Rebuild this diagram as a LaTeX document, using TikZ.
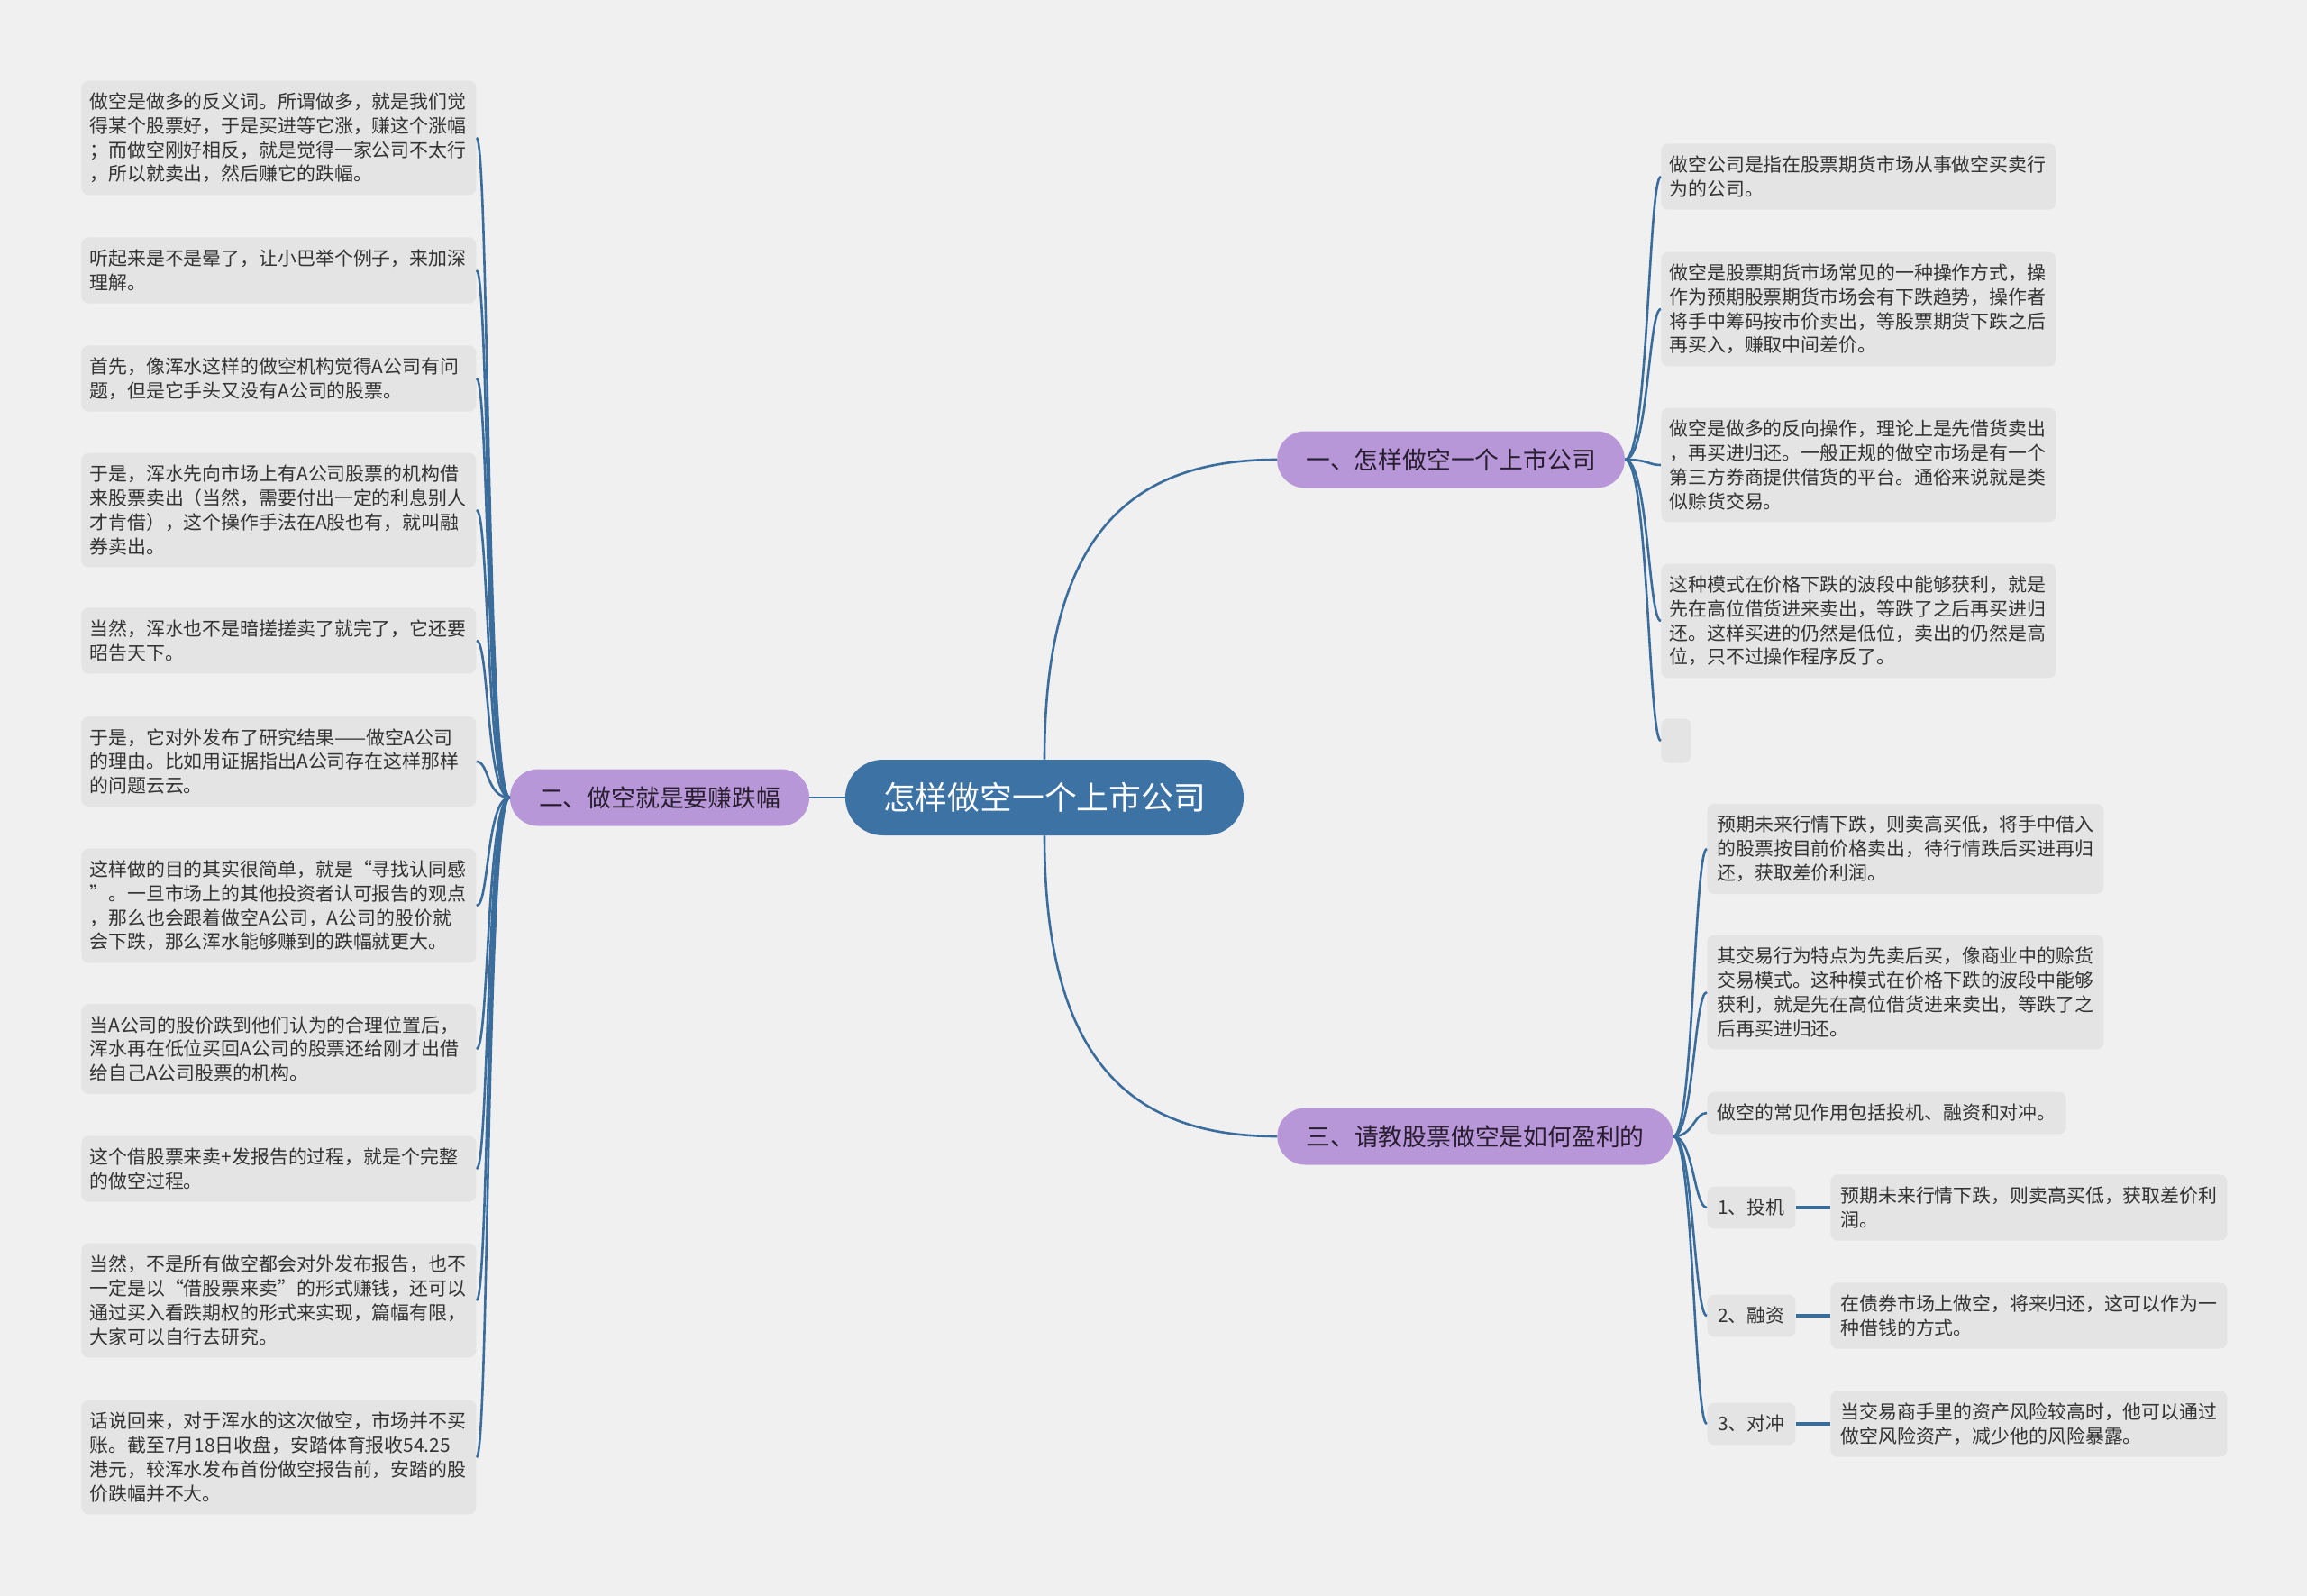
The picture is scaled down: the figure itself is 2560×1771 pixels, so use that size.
\documentclass[tikz,border=0pt]{standalone}
\usepackage{fontspec}
\setmainfont{Noto Sans CJK SC}
\usepackage{xcolor}
\usepackage{tikz}
\usetikzlibrary{positioning}
\definecolor{paper}{RGB}{240,240,240}
\definecolor{rootblue}{RGB}{60,114,164}
\definecolor{linkblue}{RGB}{58,108,156}
\definecolor{lavender}{RGB}{184,151,216}
\definecolor{leafgray}{RGB}{228,228,228}
\definecolor{inkgray}{RGB}{51,51,51}
\definecolor{branchink}{RGB}{40,30,48}

\begin{document}
\begin{tikzpicture}[x=0.5pt, y=-0.5pt,
    root/.style={fill=rootblue, text=white, rounded corners=20.9pt, minimum height=42pt, inner xsep=21pt, font=\fontsize{17.9}{20}\selectfont},
    branch/.style={fill=lavender, text=branchink, rounded corners=15.6pt, minimum height=31.5pt, inner xsep=16pt, font=\fontsize{13.4}{16}\selectfont},
    leaf/.style={fill=leafgray, text=inkgray, rounded corners=4pt, anchor=west, align=left, text width=210pt, inner xsep=4.5pt, inner ysep=0pt, font=\fontsize{10.45}{13.35}\selectfont},
    small/.style={leaf, text width=, inner xsep=5.5pt},
    lines/.style={minimum height=#1*13.35pt+10pt},
    link/.style={draw=linkblue, line width=1.3pt},
    ]
    \useasboundingbox (0,0) rectangle (2560,1771);
    \fill[paper] (0,0) rectangle (2560,1771);

    % Root and main branches
    \node[root] (root) at (1159,885) {怎样做空一个上市公司};
    \node[branch] (b1) at (1610,510) {一、怎样做空一个上市公司};
    \node[branch] (b2) at (732,885) {二、做空就是要赚跌幅};
    \node[branch] (b3) at (1637,1261) {三、请教股票做空是如何盈利的};

    \draw[link] (root.north) .. controls +(0,-243) and +(-168,0) .. (b1.west);
    \draw[link] (root.south) .. controls +(0,243) and +(-168,0) .. (b3.west);
    \draw[link] (root.west) -- (b2.east);

    % Branch 1: what a short company is
    \node[leaf, lines=2] (r1) at (1843,196) {做空公司是指在股票期货市场从事做空买卖行\\为的公司。};
    \node[leaf, lines=4] (r2) at (1843,343) {做空是股票期货市场常见的一种操作方式，操\\作为预期股票期货市场会有下跌趋势，操作者\\将手中筹码按市价卖出，等股票期货下跌之后\\再买入，赚取中间差价。};
    \node[leaf, lines=4] (r3) at (1843,516) {做空是做多的反向操作，理论上是先借货卖出\\，再买进归还。一般正规的做空市场是有一个\\第三方券商提供借货的平台。通俗来说就是类\\似赊货交易。};
    \node[leaf, lines=4] (r4) at (1843,689) {这种模式在价格下跌的波段中能够获利，就是\\先在高位借货进来卖出，等跌了之后再买进归\\还。这样买进的仍然是低位，卖出的仍然是高\\位，只不过操作程序反了。};
    \node[leaf, text width=, minimum width=16.5pt, minimum height=24.5pt] (r5) at (1843,822) {};
    \foreach \n in {r1,r2,r3,r4,r5}
        \draw[link] (b1.east) .. controls +(26,0) and +(-14,0) .. (\n.west);

    % Branch 2: the example of a short seller
    \node[leaf, lines=4] (l1) at (90,153) {做空是做多的反义词。所谓做多，就是我们觉\\得某个股票好，于是买进等它涨，赚这个涨幅\\；而做空刚好相反，就是觉得一家公司不太行\\，所以就卖出，然后赚它的跌幅。};
    \node[leaf, lines=2] (l2) at (90,300) {听起来是不是晕了，让小巴举个例子，来加深\\理解。};
    \node[leaf, lines=2] (l3) at (90,420) {首先，像浑水这样的做空机构觉得A公司有问\\题，但是它手头又没有A公司的股票。};
    \node[leaf, lines=4] (l4) at (90,566) {于是，浑水先向市场上有A公司股票的机构借\\来股票卖出（当然，需要付出一定的利息别人\\才肯借），这个操作手法在A股也有，就叫融\\券卖出。};
    \node[leaf, lines=2] (l5) at (90,711) {当然，浑水也不是暗搓搓卖了就完了，它还要\\昭告天下。};
    \node[leaf, lines=3] (l6) at (90,845) {于是，它对外发布了研究结果——做空A公司\\的理由。比如用证据指出A公司存在这样那样\\的问题云云。};
    \node[leaf, lines=4] (l7) at (90,1005) {这样做的目的其实很简单，就是“寻找认同感\\”。一旦市场上的其他投资者认可报告的观点\\，那么也会跟着做空A公司，A公司的股价就\\会下跌，那么浑水能够赚到的跌幅就更大。};
    \node[leaf, lines=3] (l8) at (90,1164) {当A公司的股价跌到他们认为的合理位置后，\\浑水再在低位买回A公司的股票还给刚才出借\\给自己A公司股票的机构。};
    \node[leaf, lines=2] (l9) at (90,1297) {这个借股票来卖+发报告的过程，就是个完整\\的做空过程。};
    \node[leaf, lines=4] (l10) at (90,1443) {当然，不是所有做空都会对外发布报告，也不\\一定是以“借股票来卖”的形式赚钱，还可以\\通过买入看跌期权的形式来实现，篇幅有限，\\大家可以自行去研究。};
    \node[leaf, lines=4] (l11) at (90,1617) {话说回来，对于浑水的这次做空，市场并不买\\账。截至7月18日收盘，安踏体育报收54.25\\港元，较浑水发布首份做空报告前，安踏的股\\价跌幅并不大。};
    \foreach \n in {l1,l2,l3,l4,l5,l6,l7,l8,l9,l10,l11}
        \draw[link] (b2.west) .. controls +(-26,0) and +(14,0) .. (\n.east);

    % Branch 3: how shorting makes money
    \node[small, lines=3] (s1) at (1894,942) {预期未来行情下跌，则卖高买低，将手中借入\\的股票按目前价格卖出，待行情跌后买进再归\\还，获取差价利润。};
    \node[small, lines=4] (s2) at (1894,1101) {其交易行为特点为先卖后买，像商业中的赊货\\交易模式。这种模式在价格下跌的波段中能够\\获利，就是先在高位借货进来卖出，等跌了之\\后再买进归还。};
    \node[small, lines=1] (s3) at (1894,1235) {做空的常见作用包括投机、融资和对冲。};
    \node[small, lines=1, minimum width=49pt] (s4) at (1894,1340) {1、投机};
    \node[small, lines=1, minimum width=49pt] (s5) at (1894,1460) {2、融资};
    \node[small, lines=1, minimum width=49pt] (s6) at (1894,1580) {3、对冲};
    \foreach \n in {s1,s2,s3,s4,s5,s6}
        \draw[link] (b3.east) .. controls +(22,0) and +(-14,0) .. (\n.west);

    \node[small, lines=2] (u1) at (2031,1340) {预期未来行情下跌，则卖高买低，获取差价利\\润。};
    \node[small, lines=2] (u2) at (2031,1460) {在债券市场上做空，将来归还，这可以作为一\\种借钱的方式。};
    \node[small, lines=2] (u3) at (2031,1580) {当交易商手里的资产风险较高时，他可以通过\\做空风险资产，减少他的风险暴露。};
    \draw[link, line width=1.7pt] (s4) -- (u1);
    \draw[link, line width=1.7pt] (s5) -- (u2);
    \draw[link, line width=1.7pt] (s6) -- (u3);
\end{tikzpicture}
\end{document}
